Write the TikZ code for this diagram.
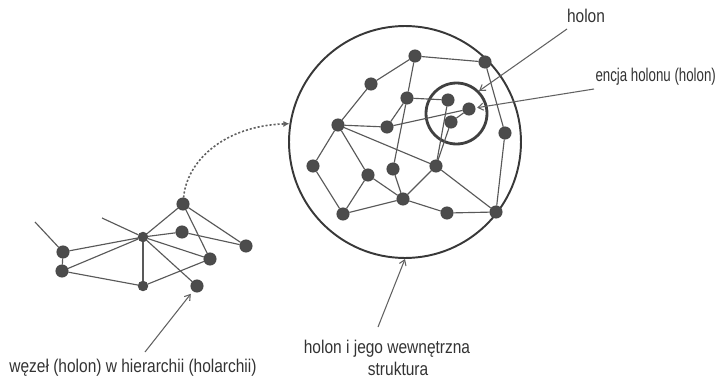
\documentclass[tikz,border=0pt]{standalone}
\usepackage{fontspec}
\setmainfont{Liberation Sans}[FakeStretch=0.84]
\newfontfamily\narrowfont{Liberation Sans}[FakeStretch=0.72]
\usetikzlibrary{arrows.meta}

\begin{document}
\begin{tikzpicture}[x=0.02cm,y=-0.02cm,
  dot/.style={draw=black!72,circle,fill=black!70,inner sep=0pt,minimum size=7pt},
  edge/.style={draw=black!65,line width=0.65pt},
  lead/.style={draw=black!62,line width=0.6pt,-{Straight Barb[length=3pt,width=4pt]}},
  lbl/.style={font=\fontsize{10.5}{12.5}\selectfont,text=black!80,inner sep=1pt}]
\useasboundingbox (0,0) rectangle (718,382);
% the holon with its inner structure
\node[draw=black!78,circle,line width=1.1pt,inner sep=0pt,minimum size=4.64cm] (holonBig) at (405,142) {};
\node[draw=black!75,circle,line width=1.6pt,inner sep=0pt,minimum size=1.22cm] (holonIn) at (456.5,113.5) {};
\node[dot] (A) at (415,56) {};
\node[dot] (B) at (485,62) {};
\node[dot] (C) at (371,84) {};
\node[dot] (D) at (407,98) {};
\node[dot] (E) at (448,100) {};
\node[dot] (F) at (469,109) {};
\node[dot] (G) at (451,122) {};
\node[dot] (H) at (338,125) {};
\node[dot] (I) at (387,127) {};
\node[dot] (J) at (505,133) {};
\node[dot] (K) at (313,166) {};
\node[dot] (L) at (368,175) {};
\node[dot] (M) at (393,169) {};
\node[dot] (N) at (436,166) {};
\node[dot] (O) at (403,199) {};
\node[dot] (P) at (343,214) {};
\node[dot] (Q) at (447,213) {};
\node[dot] (R) at (496,212) {};
\draw[edge] (H) -- (C) -- (A) -- (B) -- (J) -- (R);
\draw[edge] (A) -- (D) -- (E);
\draw[edge] (D) -- (I);
\draw[edge] (H) -- (I) -- (F);
\draw[edge] (D) -- (M) -- (O);
\draw[edge] (E) -- (N);
\draw[edge] (G) -- (N);
\draw[edge] (G) -- (F);
\draw[edge] (H) -- (K) -- (P) -- (O) -- (Q) -- (R);
\draw[edge] (H) -- (L) -- (P);
\draw[edge] (L) -- (O);
\draw[edge] (H) -- (N) -- (O);
\draw[edge] (N) -- (R);
% node of the hierarchy
\node[dot] (a) at (183,204) {};
\node[dot] (b) at (182,232) {};
\node[dot,minimum size=5.5pt] (c) at (143,237) {};
\node[dot] (d) at (246,246) {};
\node[dot] (e) at (63,252) {};
\node[dot] (f) at (210,259) {};
\node[dot] (g) at (62,271) {};
\node[dot,minimum size=5.5pt] (h) at (143,286) {};
\node[dot] (i) at (197,286) {};
\coordinate (outE) at (35,222);
\coordinate (outC) at (102,218);
\draw[edge] (outE) -- (e) -- (g) -- (h) -- (f);
\draw[edge] (outC) -- (c);
\draw[edge] (e) -- (c) -- (g);
\draw[edge] (c) -- (h);
\draw[edge] (c) -- (a) -- (d) -- (b) -- (c);
\draw[edge] (a) -- (f) -- (c) -- (i);
% zoom into the holon
\draw[draw=black!62,line width=0.9pt,dash pattern=on 1.2pt off 1.1pt,-{Latex[length=3.5pt,width=3.5pt]}]
  (a) .. controls (187,160) and (225,126) .. (holonBig.171);
% labels
\node[lbl] (lblHolon) at (586,16) {holon};
\node[lbl,font=\fontsize{10.5}{12.5}\narrowfont,anchor=east] (lblEncja) at (718,77) {encja holonu (holon)};
\node[lbl,align=center] (lblStruk) at (387,358) {holon i jego wewnętrzna\\\hspace*{1.2em}struktura};
\node[lbl] (lblWezel) at (133,368) {węzeł (holon) w hierarchii (holarchii)};
\coordinate (tailHolon) at (567,29);
\coordinate (tailEncja) at (594,89);
\coordinate (tailStruk) at (378,327);
\coordinate (tailWezel) at (145,352);
\draw[lead] (tailHolon) -- (holonIn.45);
\draw[lead,shorten >=1pt] (tailEncja) -- (F);
\draw[lead] (tailStruk) -- (holonBig.south);
\draw[lead,shorten >=2pt] (tailWezel) -- (i);
\end{tikzpicture}
\end{document}
